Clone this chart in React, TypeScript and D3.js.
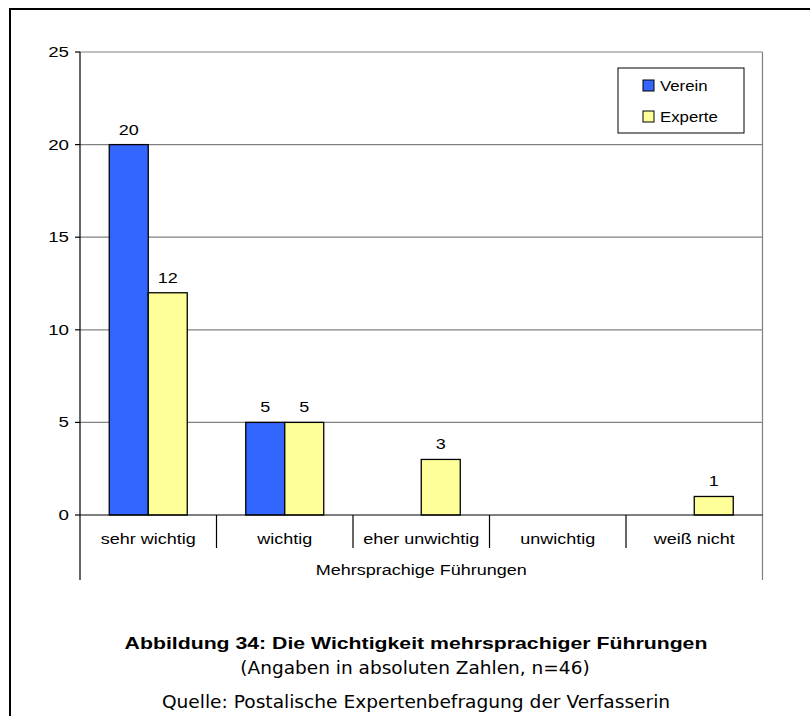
import React from "react";
import * as d3 from "d3";

const categories = ["sehr wichtig", "wichtig", "eher unwichtig", "unwichtig", "weiß nicht"];
const seriesNames = ["Verein", "Experte"];
const vereinValues = [20, 5, 0, 0, 0];
const experteValues = [12, 5, 3, 0, 1];
const yTickValues = [0, 5, 10, 15, 20, 25];
const axisTitle = "Mehrsprachige Führungen";
const captionTitle = "Abbildung 34: Die Wichtigkeit mehrsprachiger Führungen";
const captionSub = "(Angaben in absoluten Zahlen, n=46)";
const captionSource = "Quelle: Postalische Expertenbefragung der Verfasserin";

const colors = ["#3366FF", "#FFFF99"];
const SX = 1.2;
const FONT = "'Liberation Sans', Arial, sans-serif";
const FONT2 = "'DejaVu Sans', Verdana, sans-serif";

function T({ x, y, children, anchor = "middle", size = 15, weight = "normal", family = FONT, sx = SX }: any) {
  return (
    <text
      transform={`translate(${x},${y}) scale(${sx},1)`}
      textAnchor={anchor}
      fontSize={size}
      fontWeight={weight}
      fontFamily={family}
      fill="#000"
    >
      {children}
    </text>
  );
}

export default function App() {
  const left = 80, right = 762.5, top = 52, bottom = 515;
  const x = d3.scaleBand<string>().domain(categories).range([left, right]).paddingInner(0).paddingOuter(0);
  const xs = d3.scaleBand<string>().domain(seriesNames).range([0, x.bandwidth()]).paddingInner(0).paddingOuter(0.75);
  const y = d3.scaleLinear().domain([0, 25]).range([bottom, top]);
  const data = [vereinValues, experteValues];

  return (
    <svg width={810} height={716} style={{ position: "absolute", left: 0, top: 0, background: "#fff" }}>
      <rect x={0} y={0} width={810} height={716} fill="#fff" />
      {/* outer border */}
      <rect x={10} y={9} width={900} height={900} fill="none" stroke="#000" strokeWidth={2} />
      {/* gridlines */}
      {yTickValues.filter(v => v > 0).map(v => (
        <line key={v} x1={left} x2={right} y1={y(v)} y2={y(v)} stroke="#808080" strokeWidth={1.2} />
      ))}
      {/* right plot edge */}
      <line x1={right} x2={right} y1={top} y2={580} stroke="#808080" strokeWidth={1.2} />
      {/* bars */}
      {data.map((vals, si) =>
        vals.map((v, i) =>
          v > 0 ? (
            <rect
              key={`${si}-${i}`}
              x={(x(categories[i]) as number) + (xs(seriesNames[si]) as number)}
              y={y(v)}
              width={xs.bandwidth()}
              height={y(0) - y(v)}
              fill={colors[si]}
              stroke="#000"
              strokeWidth={1.3}
            />
          ) : null
        )
      )}
      {/* value labels */}
      {data.map((vals, si) =>
        vals.map((v, i) =>
          v > 0 ? (
            <T key={`l${si}-${i}`} x={(x(categories[i]) as number) + (xs(seriesNames[si]) as number) + xs.bandwidth() / 2} y={y(v) - 10}>
              {v}
            </T>
          ) : null
        )
      )}
      {/* y axis */}
      <line x1={left} x2={left} y1={top} y2={580} stroke="#000" strokeWidth={1.2} />
      {yTickValues.map(v => (
        <g key={v}>
          <line x1={left - 5} x2={left} y1={y(v)} y2={y(v)} stroke="#000" strokeWidth={1.2} />
          <T x={69} y={y(v) + 5} anchor="end" sx={1.25}>{v}</T>
        </g>
      ))}
      {/* x axis baseline */}
      <line x1={left} x2={right} y1={bottom} y2={bottom} stroke="#000" strokeWidth={1.2} />
      {categories.map((c, i) => (
        <g key={c}>
          {i > 0 && <line x1={x(c)} x2={x(c)} y1={bottom} y2={548} stroke="#000" strokeWidth={1.2} />}
          <T x={(x(c) as number) + x.bandwidth() / 2} y={544}>{c}</T>
        </g>
      ))}
      <T x={(left + right) / 2} y={575}>{axisTitle}</T>
      {/* legend */}
      <rect x={618} y={68} width={126} height={65} fill="#fff" stroke="#000" strokeWidth={1} />
      {seriesNames.map((s, i) => (
        <g key={s}>
          <rect x={643} y={80 + i * 31} width={11} height={11} fill={colors[i]} stroke="#000" strokeWidth={1} />
          <T x={660} y={91 + i * 31} anchor="start" sx={1.12}>{s}</T>
        </g>
      ))}
      {/* caption */}
      <T x={416} y={649} size={17} weight="bold" sx={1.25}>{captionTitle}</T>
      <T x={415} y={674} size={17} family={FONT2} sx={1.09}>{captionSub}</T>
      <T x={416} y={708} size={17} family={FONT2} sx={1.095}>{captionSource}</T>
    </svg>
  );
}
